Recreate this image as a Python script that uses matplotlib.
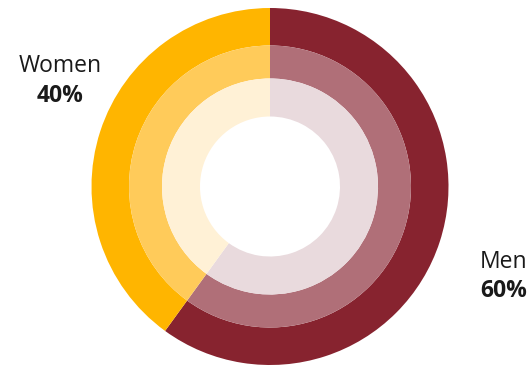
import matplotlib.pyplot as plt

# Data
labels = ['Men', 'Women']
shares = [60, 40]
pct_labels = ['60%', '40%']

# Ring colours (outer -> inner), per category
outer_colors = ['#87232F', '#FFB500']
middle_colors = ['#B06F78', '#FFCB5A']
inner_colors = ['#E9DADD', '#FFF1D6']

W, H = 530, 368
fig = plt.figure(figsize=(W / 100, H / 100), dpi=100)
ax = fig.add_axes([0, 0, 1, 1])
ax.set_xlim(0, W)
ax.set_ylim(0, H)
ax.set_aspect('equal')
ax.axis('off')

center = (270, H - 186.5)
rings = [
    (178.5, 37.5, outer_colors),
    (141.0, 33.0, middle_colors),
    (108.0, 38.0, inner_colors),
]
for radius, width, colors in rings:
    ax.pie(shares, colors=colors, startangle=90, counterclock=False,
           radius=radius, center=center, frame=True,
           wedgeprops=dict(width=width, linewidth=0))

# Restore limits after pie
ax.set_xlim(0, W)
ax.set_ylim(0, H)
ax.axis('off')

font = 'Open Sans'
ax.text(60, H - 72, 'Women', ha='center', va='baseline', fontsize=16.5,
        family=font, color='#1a1a1a')
ax.text(60, H - 102, pct_labels[1], ha='center', va='baseline', fontsize=16.5,
        family=font, fontweight='bold', color='#1a1a1a')
ax.text(480, H - 268, 'Men', ha='left', va='baseline', fontsize=16.5,
        family=font, color='#1a1a1a')
ax.text(480, H - 297, pct_labels[0], ha='left', va='baseline', fontsize=16.5,
        family=font, fontweight='bold', color='#1a1a1a')

fig.savefig('out.png', dpi=100)
